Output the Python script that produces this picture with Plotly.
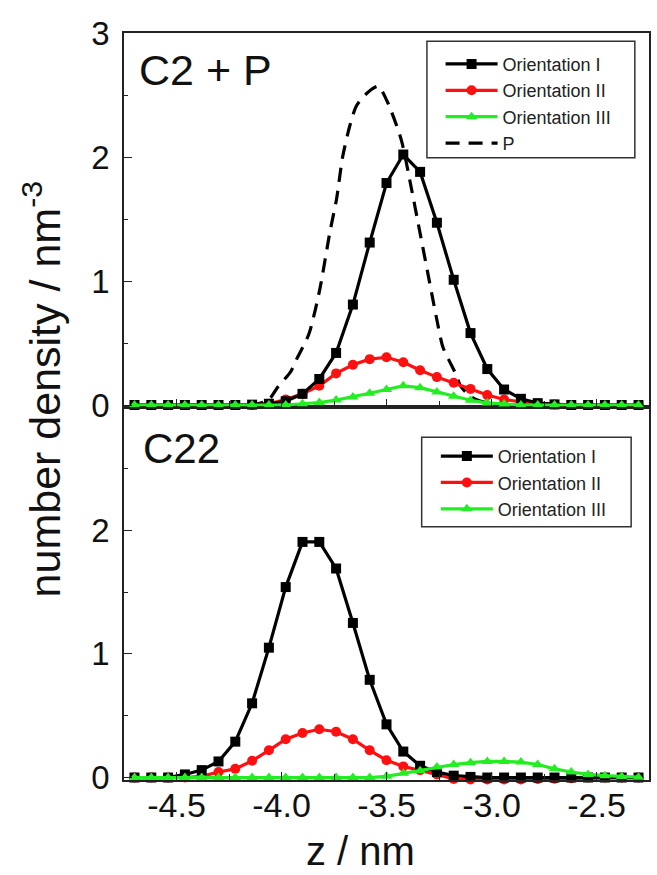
import plotly.graph_objects as go

# ---------------- data ----------------
z = [-4.70, -4.62, -4.54, -4.46, -4.38, -4.30, -4.22, -4.14, -4.06, -3.98,
     -3.90, -3.82, -3.74, -3.66, -3.58, -3.50, -3.42, -3.34, -3.26, -3.18,
     -3.10, -3.02, -2.94, -2.86, -2.78, -2.70, -2.62, -2.54, -2.46, -2.38, -2.30]

# Panel "C2 + P"
top_I = [0, 0, 0, 0, 0, 0, 0, 0.003, 0.01, 0.03,
         0.09, 0.21, 0.42, 0.81, 1.31, 1.79, 2.02, 1.88, 1.47, 1.01,
         0.58, 0.29, 0.125, 0.05, 0.015, 0.005, 0, 0, 0, 0, 0]
top_II = [0, 0, 0, 0, 0, 0, 0, 0, 0.01, 0.045,
          0.09, 0.155, 0.255, 0.325, 0.37, 0.385, 0.345, 0.28, 0.225, 0.18,
          0.13, 0.08, 0.045, 0.025, 0.012, 0.005, 0, 0, 0, 0, 0]
top_III = [0, 0, 0, 0, 0, 0, 0, 0, 0, 0,
           0.01, 0.02, 0.04, 0.065, 0.095, 0.125, 0.155, 0.14, 0.105, 0.07,
           0.038, 0.017, 0.008, 0, 0, 0, 0, 0, 0, 0, 0]

P_z = [-4.70, -4.14, -4.06, -4.02, -3.956, -3.925, -3.87, -3.818, -3.77, -3.738,
       -3.709, -3.675, -3.644, -3.596, -3.54, -3.497, -3.43, -3.383, -3.344, -3.304,
       -3.264, -3.232, -3.205, -3.17, -3.146, -3.107, -3.074, -3.027, -2.95, -2.30]
P_density = [0, 0, 0.045, 0.14, 0.27, 0.38, 0.57, 0.93, 1.39, 1.66,
             2.0, 2.25, 2.41, 2.51, 2.57, 2.45, 2.14, 1.76, 1.42, 1.07,
             0.72, 0.47, 0.37, 0.25, 0.15, 0.08, 0.045, 0.02, 0.005, 0]

# Panel "C22"
bot_I = [0, 0, 0, 0.025, 0.06, 0.13, 0.29, 0.60, 1.05, 1.54,
         1.905, 1.905, 1.69, 1.25, 0.79, 0.43, 0.21, 0.095, 0.045, 0.015,
         0.005, 0, 0, 0, 0, 0, 0, 0, 0, 0, 0]
bot_II = [0, 0, 0, 0, 0.01, 0.045, 0.07, 0.135, 0.22, 0.31,
          0.36, 0.39, 0.37, 0.31, 0.22, 0.14, 0.09, 0.06, 0.025, -0.012,
          -0.015, -0.015, -0.015, -0.015, -0.012, -0.01, -0.005, 0, 0, 0, 0]
bot_III = [0, 0, 0, 0, 0, 0, 0, 0, 0, 0,
           0, 0, 0, 0, 0, 0.01, 0.035, 0.055, 0.085, 0.105,
           0.12, 0.13, 0.13, 0.125, 0.105, 0.07, 0.045, 0.025, 0.015, 0.008, 0.003]

series_names = ["Orientation I", "Orientation II", "Orientation III", "P"]
x_tickvals = [-4.5, -4.0, -3.5, -3.0, -2.5]
x_ticktext = ["-4.5", "-4.0", "-3.5", "-3.0", "-2.5"]
top_y_tickvals = [0, 1, 2, 3]
bot_y_tickvals = [0, 1, 2]

# ---------------- styling ----------------
FONT = "Liberation Sans, Arial, sans-serif"
BLACK = "#000000"
RED = "#ff1010"
GREEN = "#22ee22"
AXC = "#222222"

fig = go.Figure()


def add(x, y, name, color, symbol, xa, ya, legend, rank, dash="solid", markers=True, shape="linear"):
    fig.add_trace(go.Scatter(
        x=x, y=y, name=name,
        mode="lines+markers" if markers else "lines",
        line=dict(color=color, width=3.2, dash=dash, shape=shape, smoothing=0.7),
        marker=dict(symbol=symbol, size=10, color=color, line=dict(width=0)) if markers else None,
        xaxis=xa, yaxis=ya, legend=legend, legendrank=rank, cliponaxis=False,
    ))


# top panel (x2/y2)
add(P_z, P_density, series_names[3], BLACK, None, "x2", "y2", "legend", 4,
    dash="14px,9px", markers=False, shape="spline")
add(z, top_II, series_names[1], RED, "circle", "x2", "y2", "legend", 2)
add(z, top_I, series_names[0], BLACK, "square", "x2", "y2", "legend", 1)
add(z, top_III, series_names[2], GREEN, "triangle-up", "x2", "y2", "legend", 3)

# bottom panel (x/y)
add(z, bot_II, series_names[1], RED, "circle", "x", "y", "legend2", 2)
add(z, bot_I, series_names[0], BLACK, "square", "x", "y", "legend2", 1)
add(z, bot_III, series_names[2], GREEN, "triangle-up", "x", "y", "legend2", 3)

xcommon = dict(range=[-4.75, -2.25], showgrid=False, zeroline=False,
               showline=True, linecolor=AXC, linewidth=1.5, mirror=True,
               tickmode="array", tickvals=x_tickvals, ticktext=x_ticktext,
               ticks="inside", ticklen=8, tickwidth=1.2, tickcolor=AXC,
               minor=dict(dtick=0.25, tick0=-4.5, ticks="inside", ticklen=6,
                          tickwidth=1.2, tickcolor=AXC),
               tickfont=dict(family=FONT, size=34, color="#111"),
               ticklabelstandoff=-6)
ycommon = dict(range=[-0.02, 3.0], showgrid=False, zeroline=False,
               showline=True, linecolor=AXC, linewidth=1.5, mirror=True,
               tickmode="array",
               ticks="inside", ticklen=8, tickwidth=1.2, tickcolor=AXC,
               minor=dict(dtick=0.5, tick0=0, ticks="inside", ticklen=4,
                          tickwidth=1.2, tickcolor=AXC),
               tickfont=dict(family=FONT, size=33, color="#111"),
               ticklabelstandoff=6)

legend_common = dict(xanchor="left", yanchor="top", bgcolor="rgba(0,0,0,0)",
                     borderwidth=0, itemwidth=52,
                     font=dict(family=FONT, size=18, color="#222"),
                     tracegroupgap=0, itemclick=False)

box_style = dict(type="rect", xref="paper", yref="paper", layer="above",
                 line=dict(color="#333", width=1.5), fillcolor="white")

fig.update_layout(
    width=657, height=875,
    margin=dict(l=124, r=6, t=33, b=95),
    paper_bgcolor="white", plot_bgcolor="white",
    font=dict(family=FONT, color="#111"),
    xaxis=dict(**xcommon, domain=[0, 1], anchor="y"),
    yaxis=dict(**ycommon, domain=[0, 0.5], anchor="x",
               tickvals=bot_y_tickvals, ticktext=[str(v) for v in bot_y_tickvals]),
    xaxis2=dict(**xcommon, domain=[0, 1], anchor="y2", showticklabels=False),
    yaxis2=dict(**{**ycommon, "range": [-0.012, 3.0]}, domain=[0.5, 1], anchor="x2",
                tickvals=top_y_tickvals, ticktext=[str(v) for v in top_y_tickvals]),
    legend=dict(**legend_common, x=0.603, y=0.983),
    legend2=dict(**legend_common, x=0.594, y=0.458),
    shapes=[
        dict(**box_style, x0=0.577, x1=0.973, y0=0.833, y1=0.989),
        dict(**box_style, x0=0.567, x1=0.966, y0=0.339, y1=0.459),
    ],
    annotations=[
        dict(text="C2 + P", x=0.025, y=0.950, xref="paper", yref="paper",
             xanchor="left", yanchor="middle", showarrow=False,
             font=dict(family=FONT, size=43, color="#111")),
        dict(text="C22", x=0.033, y=0.444, xref="paper", yref="paper",
             xanchor="left", yanchor="middle", showarrow=False,
             font=dict(family=FONT, size=42, color="#111")),
        dict(text="number density / nm<sup>-3</sup>", x=-0.156, y=0.523,
             xref="paper", yref="paper", xanchor="center", yanchor="middle",
             textangle=-90, showarrow=False,
             font=dict(family=FONT, size=43, color="#111")),
        dict(text="z / nm", x=0.450, y=-0.095, xref="paper", yref="paper",
             xanchor="center", yanchor="middle", showarrow=False,
             font=dict(family=FONT, size=40, color="#111")),
    ],
)

fig.write_html("out.html")
